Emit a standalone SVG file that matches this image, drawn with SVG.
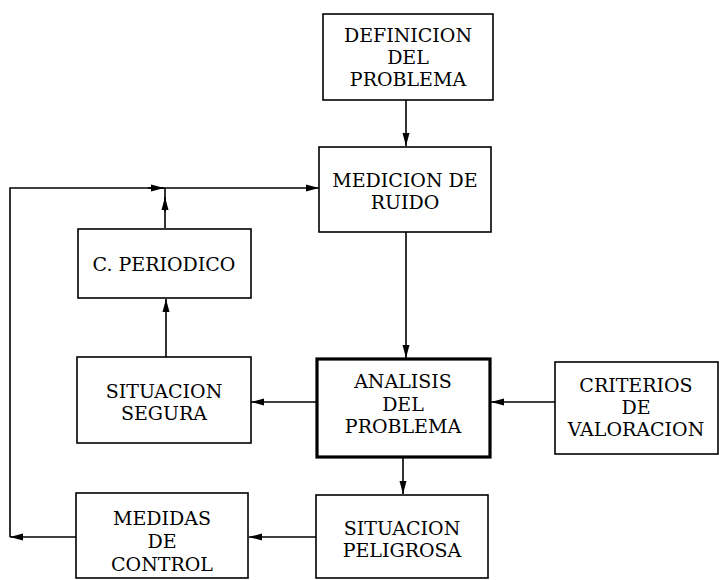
<svg xmlns="http://www.w3.org/2000/svg" width="719" height="580" viewBox="0 0 719 580">
<style>
  .box { fill: #fff; stroke: #000; stroke-width: 1.6; }
  .thick { stroke-width: 3.2; }
  .c { fill: none; stroke: #000; stroke-width: 1.6; }
  text { font-family: "DejaVu Serif", "Liberation Serif", serif; font-size: 19px; fill: #000; text-anchor: middle; }
</style>
<defs>
  <marker id="ah" markerUnits="userSpaceOnUse" markerWidth="14" markerHeight="8" refX="13" refY="4" orient="auto">
    <path d="M0,0.5 L13,4 L0,7.5 z" fill="#000"/>
  </marker>
</defs>
<rect width="719" height="580" fill="#fff"/>
<g id="connectors">
  <path class="c" d="M406,100 V146" marker-end="url(#ah)"/>
  <path class="c" d="M406,232 V358" marker-end="url(#ah)"/>
  <path class="c" d="M403,457 V494" marker-end="url(#ah)"/>
  <path class="c" d="M555,402 H491" marker-end="url(#ah)"/>
  <path class="c" d="M317,402 H251" marker-end="url(#ah)"/>
  <path class="c" d="M166,357 V299" marker-end="url(#ah)"/>
  <path class="c" d="M165,228 V188"/>
  <path class="c" d="M165,212 V197" marker-end="url(#ah)"/>
  <path class="c" d="M316,537 H249" marker-end="url(#ah)"/>
  <path class="c" d="M76,537 H10" marker-end="url(#ah)"/>
  <path class="c" d="M10,537 V188 H319" marker-end="url(#ah)"/>
  <path class="c" d="M148,188 H164" marker-end="url(#ah)"/>
</g>
<g id="definicion">
  <rect class="box" x="323" y="14" width="170" height="86"/>
  <text x="408" y="42">DEFINICION</text>
  <text x="408" y="64">DEL</text>
  <text x="408" y="86">PROBLEMA</text>
</g>
<g id="medicion">
  <rect class="box" x="319" y="147" width="172" height="85"/>
  <text x="405" y="187">MEDICION DE</text>
  <text x="405" y="209">RUIDO</text>
</g>
<g id="periodico">
  <rect class="box" x="78" y="229" width="173" height="69"/>
  <text x="164" y="271">C. PERIODICO</text>
</g>
<g id="segura">
  <rect class="box" x="77" y="357" width="174" height="86"/>
  <text x="164" y="398">SITUACION</text>
  <text x="164" y="420">SEGURA</text>
</g>
<g id="analisis">
  <rect class="box thick" x="317" y="359" width="173" height="98"/>
  <text x="403" y="388">ANALISIS</text>
  <text x="403" y="411">DEL</text>
  <text x="403" y="433">PROBLEMA</text>
</g>
<g id="criterios">
  <rect class="box" x="555" y="362" width="163" height="92"/>
  <text x="636" y="392">CRITERIOS</text>
  <text x="636" y="414">DE</text>
  <text x="636" y="436">VALORACION</text>
</g>
<g id="peligrosa">
  <rect class="box" x="316" y="495" width="172" height="83"/>
  <text x="402" y="535">SITUACION</text>
  <text x="402" y="557">PELIGROSA</text>
</g>
<g id="medidas">
  <rect class="box" x="76" y="493" width="172" height="85"/>
  <text x="162" y="525">MEDIDAS</text>
  <text x="162" y="548">DE</text>
  <text x="162" y="571">CONTROL</text>
</g>
</svg>
